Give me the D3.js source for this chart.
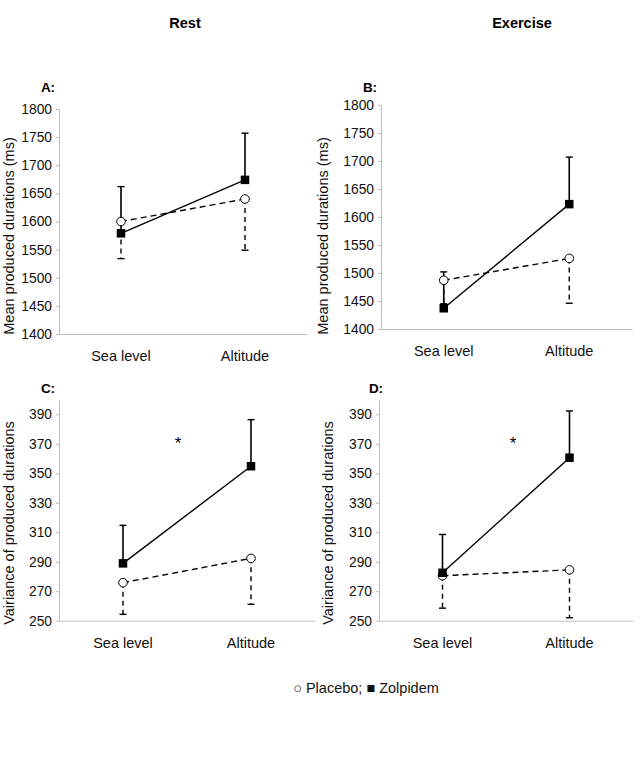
<!DOCTYPE html>
<html>
<head>
<meta charset="utf-8">
<script src="https://cdn.jsdelivr.net/npm/d3@7"></script>
<style>
  body { margin: 0; background: #fff; }
  svg { font-family: "Liberation Sans", Arial, sans-serif; }
</style>
</head>
<body>
<div id="chart"></div>
<script>
// Produced durations: placebo vs zolpidem, rest and exercise
const width = 642;
const height = 761;

const conditions = ["Sea level", "Altitude"];

// A: rest, mean produced durations (ms)
const restMeanPlacebo = [1600, 1640];
const restMeanPlaceboLow = [1534, 1549];
const restMeanZolpidem = [1579, 1674];
const restMeanZolpidemHigh = [1662, 1757];

// B: exercise, mean produced durations (ms)
const exMeanPlacebo = [1487, 1526];
const exMeanPlaceboLow = [1445, 1446];
const exMeanZolpidem = [1437, 1623];
const exMeanZolpidemHigh = [1502, 1707];

// C: rest, variance
const restVarPlacebo = [275.8, 292.3];
const restVarPlaceboLow = [254.3, 261.1];
const restVarZolpidem = [288.9, 354.8];
const restVarZolpidemHigh = [314.7, 386.4];

// D: exercise, variance
const exVarPlacebo = [280.5, 284.5];
const exVarPlaceboLow = [258.5, 252];
const exVarZolpidem = [282.5, 360.6];
const exVarZolpidemHigh = [308.5, 392.3];

const meanTicks = [1400, 1450, 1500, 1550, 1600, 1650, 1700, 1750, 1800];
const varTicks = [250, 270, 290, 310, 330, 350, 370, 390];

const meanLabel = "Mean produced durations (ms)";
const varLabel = "Vairiance of produced durations";

const panels = [
    { id: "A:", left: 59, right: 307, top: 109, bottom: 334, domain: [1400, 1800], ticks: meanTicks,
      ylabel: meanLabel, labelX: 14, labelY: 236, tagX: 48, tagY: 92, star: null,
      placebo: restMeanPlacebo, placeboLow: restMeanPlaceboLow, zolpidem: restMeanZolpidem, zolpidemHigh: restMeanZolpidemHigh },
    { id: "B:", left: 381, right: 632, top: 105, bottom: 329, domain: [1400, 1800], ticks: meanTicks,
      ylabel: meanLabel, labelX: 328, labelY: 236, tagX: 370, tagY: 92, star: null,
      placebo: exMeanPlacebo, placeboLow: exMeanPlaceboLow, zolpidem: exMeanZolpidem, zolpidemHigh: exMeanZolpidemHigh },
    { id: "C:", left: 59, right: 315, top: 399.6, bottom: 620.7, domain: [250, 400], ticks: varTicks,
      ylabel: varLabel, labelX: 14, labelY: 523, tagX: 48, tagY: 393, star: [178, 366.5],
      placebo: restVarPlacebo, placeboLow: restVarPlaceboLow, zolpidem: restVarZolpidem, zolpidemHigh: restVarZolpidemHigh },
    { id: "D:", left: 379, right: 633, top: 399.6, bottom: 620.7, domain: [250, 400], ticks: varTicks,
      ylabel: varLabel, labelX: 333, labelY: 523, tagX: 376, tagY: 393, star: [513, 366.5],
      placebo: exVarPlacebo, placeboLow: exVarPlaceboLow, zolpidem: exVarZolpidem, zolpidemHigh: exVarZolpidemHigh }
];

const svg = d3.select("#chart")
    .append("svg")
    .attr("width", width)
    .attr("height", height);

// column titles
svg.append("text")
    .attr("x", 185).attr("y", 28)
    .attr("text-anchor", "middle")
    .style("font-size", "14.5px").style("font-weight", "bold")
    .text("Rest");
svg.append("text")
    .attr("x", 522).attr("y", 28)
    .attr("text-anchor", "middle")
    .style("font-size", "14.5px").style("font-weight", "bold")
    .text("Exercise");

const axisColor = "#bdbdbd";

panels.forEach(p => {
    const g = svg.append("g");

    const x = d3.scaleBand()
        .domain(conditions)
        .range([p.left, p.right]);

    const y = d3.scaleLinear()
        .domain(p.domain)
        .range([p.bottom, p.top]);

    // y axis
    const yAxis = g.append("g")
        .attr("transform", `translate(${p.left},0)`)
        .call(d3.axisLeft(y).tickValues(p.ticks).tickFormat(d3.format("d"))
            .tickSize(3).tickPadding(4).tickSizeOuter(0));
    yAxis.select(".domain").attr("stroke", axisColor);
    yAxis.selectAll(".tick line").attr("stroke", axisColor);
    yAxis.selectAll("text")
        .attr("fill", "#111")
        .style("font-size", "13.8px")
        .style("font-family", "Liberation Sans, Arial, sans-serif");

    // x axis
    const xAxis = g.append("g")
        .attr("transform", `translate(0,${p.bottom})`)
        .call(d3.axisBottom(x).tickSize(0).tickPadding(17));
    xAxis.select(".domain").attr("stroke", axisColor);
    xAxis.selectAll("text")
        .attr("fill", "#111")
        .style("font-size", "14.5px")
        .style("font-family", "Liberation Sans, Arial, sans-serif");

    // panel tag
    g.append("text")
        .attr("x", p.tagX).attr("y", p.tagY)
        .attr("text-anchor", "middle")
        .style("font-size", "13.5px").style("font-weight", "bold")
        .text(p.id);

    // y label
    g.append("text")
        .attr("transform", `translate(${p.labelX},${p.labelY}) rotate(-90)`)
        .attr("text-anchor", "middle")
        .style("font-size", "14.5px")
        .attr("fill", "#111")
        .text(p.ylabel);

    const cx = d => x(d) + x.bandwidth() / 2;
    const capW = 3.5;

    // error bars: placebo dashed downward
    conditions.forEach((c, i) => {
        g.append("line")
            .attr("x1", cx(c)).attr("x2", cx(c))
            .attr("y1", y(p.placebo[i])).attr("y2", y(p.placeboLow[i]))
            .attr("stroke", "#000").attr("stroke-width", 1.4)
            .attr("stroke-dasharray", "5,4");
        g.append("line")
            .attr("x1", cx(c) - capW).attr("x2", cx(c) + capW)
            .attr("y1", y(p.placeboLow[i])).attr("y2", y(p.placeboLow[i]))
            .attr("stroke", "#000").attr("stroke-width", 1.4);
    });

    // error bars: zolpidem solid upward
    conditions.forEach((c, i) => {
        g.append("line")
            .attr("x1", cx(c)).attr("x2", cx(c))
            .attr("y1", y(p.zolpidem[i])).attr("y2", y(p.zolpidemHigh[i]))
            .attr("stroke", "#000").attr("stroke-width", 1.6);
        g.append("line")
            .attr("x1", cx(c) - capW).attr("x2", cx(c) + capW)
            .attr("y1", y(p.zolpidemHigh[i])).attr("y2", y(p.zolpidemHigh[i]))
            .attr("stroke", "#000").attr("stroke-width", 1.4);
    });

    const line = d3.line()
        .x((d, i) => cx(conditions[i]))
        .y(d => y(d));

    g.append("path")
        .datum(p.placebo)
        .attr("d", line)
        .attr("fill", "none")
        .attr("stroke", "#000").attr("stroke-width", 1.4)
        .attr("stroke-dasharray", "6,4");

    g.append("path")
        .datum(p.zolpidem)
        .attr("d", line)
        .attr("fill", "none")
        .attr("stroke", "#000").attr("stroke-width", 1.4);

    g.selectAll(".pl")
        .data(p.placebo)
        .join("circle")
        .attr("cx", (d, i) => cx(conditions[i]))
        .attr("cy", d => y(d))
        .attr("r", 4.3)
        .attr("fill", "#fff")
        .attr("stroke", "#000").attr("stroke-width", 1);

    const s = 8.5;
    g.selectAll(".zo")
        .data(p.zolpidem)
        .join("rect")
        .attr("x", (d, i) => cx(conditions[i]) - s / 2)
        .attr("y", d => y(d) - s / 2)
        .attr("width", s).attr("height", s)
        .attr("fill", "#000");

    if (p.star) {
        g.append("text")
            .attr("x", p.star[0])
            .attr("y", y(p.star[1]))
            .attr("text-anchor", "middle")
            .style("font-size", "17px")
            .text("*");
    }
});

// legend
svg.append("text")
    .attr("x", 366).attr("y", 693)
    .attr("text-anchor", "middle")
    .style("font-size", "14.5px")
    .attr("fill", "#111")
    .text("\u25CB Placebo; \u25A0 Zolpidem");
</script>
</body>
</html>
